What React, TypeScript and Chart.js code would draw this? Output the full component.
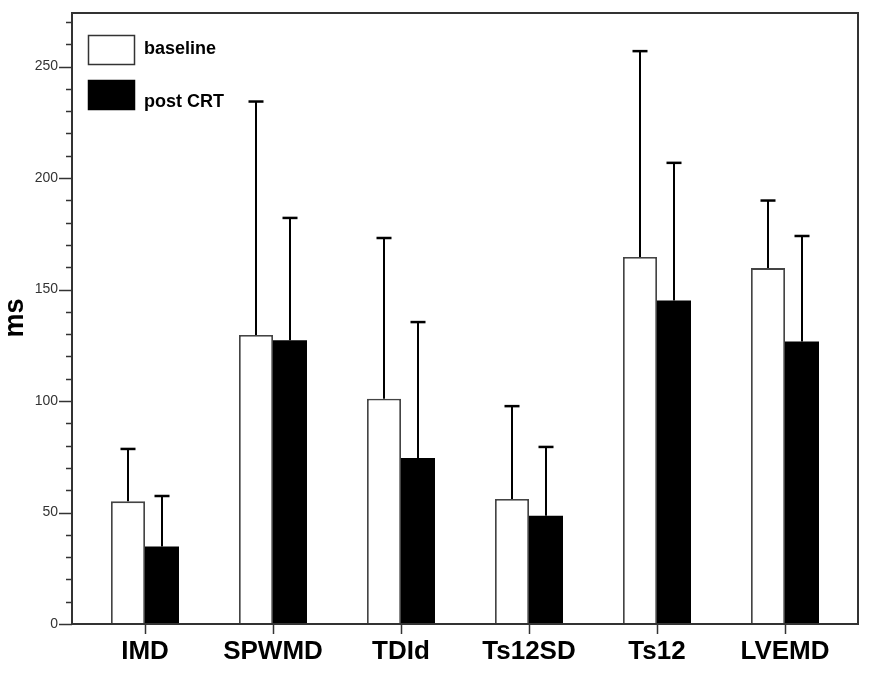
import React, { useEffect, useRef } from "react";
import { Chart, registerables } from "chart.js";

Chart.register(...registerables);

const categories = ["IMD", "SPWMD", "TDId", "Ts12SD", "Ts12", "LVEMD"];
const seriesNames = ["baseline", "post CRT"];
const baselineMean = [55, 129.6, 101, 56.1, 164.6, 159.6];
const baselineSD = [23.5, 104.7, 72.1, 41.6, 92.3, 30.3];
const postMean = [34.7, 127.3, 74.4, 48.6, 145.1, 126.7];
const postSD = [22.7, 54.8, 61, 30.8, 61.7, 47.3];
const yTickLabels = [0, 50, 100, 150, 200, 250];
const yMinorStep = 10;
const yMax = 274;
const yTitle = "ms";

const FONT = '"Liberation Sans", Arial, Helvetica, sans-serif';
const AXIS = "#333333";

const sdByDataset = [baselineSD, postSD];
const meanByDataset = [baselineMean, postMean];

const decorPlugin = {
  id: "decor",
  afterDatasetsDraw(chart: any) {
    const ctx = chart.ctx;
    const y = chart.scales.y;
    ctx.save();
    chart.data.datasets.forEach((ds: any, di: number) => {
      const meta = chart.getDatasetMeta(di);
      meta.data.forEach((el: any, i: number) => {
        const top = y.getPixelForValue(meanByDataset[di][i] + sdByDataset[di][i]);
        const cx = Math.round(el.x);
        ctx.strokeStyle = "#000";
        ctx.lineWidth = 2;
        ctx.beginPath();
        ctx.moveTo(cx, el.y);
        ctx.lineTo(cx, top);
        ctx.stroke();
        ctx.lineWidth = 2.5;
        ctx.beginPath();
        ctx.moveTo(cx - 7.5, top);
        ctx.lineTo(cx + 7.5, top);
        ctx.stroke();
      });
    });
    ctx.restore();
  },
  afterDraw(chart: any) {
    const ctx = chart.ctx;
    const y = chart.scales.y;
    const x = chart.scales.x;
    const area = chart.chartArea;
    ctx.save();
    ctx.strokeStyle = AXIS;
    ctx.lineWidth = 2;
    ctx.strokeRect(area.left, area.top, area.right - area.left, area.bottom - area.top);
    ctx.lineWidth = 1.5;
    for (let v = 0; v <= yMax; v += yMinorStep) {
      const py = Math.round(y.getPixelForValue(v)) + 0.5;
      const major = yTickLabels.includes(v);
      ctx.beginPath();
      ctx.moveTo(area.left - (major ? 13 : 6), py);
      ctx.lineTo(area.left, py);
      ctx.stroke();
    }
    categories.forEach((_, i) => {
      const px = Math.round(x.getPixelForValue(i)) + 0.5;
      ctx.beginPath();
      ctx.moveTo(px, area.bottom);
      ctx.lineTo(px, area.bottom + 10);
      ctx.stroke();
    });
    ctx.fillStyle = "#000";
    ctx.font = `bold 27px ${FONT}`;
    ctx.textAlign = "center";
    ctx.textBaseline = "middle";
    ctx.translate(16, 318);
    ctx.rotate(-Math.PI / 2);
    ctx.fillText(yTitle, 0, 0);
    ctx.restore();
    ctx.save();
    const boxes = [
      { fill: "#ffffff", stroke: AXIS, y: 35 },
      { fill: "#000000", stroke: "#000000", y: 80 },
    ];
    boxes.forEach((b, i) => {
      ctx.fillStyle = b.fill;
      ctx.fillRect(88, b.y, 47, 30);
      ctx.strokeStyle = b.stroke;
      ctx.lineWidth = 1.5;
      ctx.strokeRect(88.5, b.y + 0.5, 46, 29);
      ctx.fillStyle = "#000";
      ctx.font = `bold 18px ${FONT}`;
      ctx.textAlign = "left";
      ctx.textBaseline = "middle";
      ctx.fillText(seriesNames[i], 144, i === 0 ? 49 : 102);
    });
    ctx.restore();
  },
};

export default function App() {
  const ref = useRef<HTMLCanvasElement>(null);
  useEffect(() => {
    document.body.style.margin = "0";
    const chart = new Chart(ref.current!, {
      type: "bar",
      data: {
        datasets: [
          {
            label: seriesNames[0],
            data: categories.map((_, i) => ({ x: i, y: baselineMean[i] })),
            backgroundColor: "#ffffff",
            borderColor: "#444444",
            borderWidth: 1.8,
          },
          {
            label: seriesNames[1],
            data: categories.map((_, i) => ({ x: i, y: postMean[i] })),
            backgroundColor: "#000000",
            borderWidth: 0,
          },
        ],
      },
      options: {
        responsive: false,
        animation: false,
        categoryPercentage: 68 / 128,
        barPercentage: 1,
        layout: { padding: { left: 0, right: 20, top: 13, bottom: 0 } },
        plugins: { legend: { display: false }, tooltip: { enabled: false } },
        scales: {
          x: {
            type: "linear",
            offset: false,
            min: -0.5703,
            max: 5.5703,
            grid: { display: false, offset: false },
            border: { display: false },
            afterFit(scale: any) {
              scale.height = 58;
              scale.paddingLeft = 0;
              scale.paddingRight = 0;
            },
            ticks: {
              stepSize: 1,
              includeBounds: false,
              autoSkip: false,
              maxRotation: 0,
              padding: 4,
              color: "#000",
              font: { family: FONT, size: 26, weight: "bold" },
              callback: (v: any) =>
                Number.isInteger(v) && categories[v] ? categories[v] : "",
            },
          },
          y: {
            min: 0,
            max: yMax,
            grid: { display: false },
            border: { display: false },
            afterFit(scale: any) {
              scale.width = 72;
              scale.paddingTop = 0;
              scale.paddingBottom = 0;
            },
            ticks: {
              stepSize: 50,
              includeBounds: false,
              padding: 6,
              color: "#333",
              font: { family: FONT, size: 14 },
              callback: (v: any) => (yTickLabels.includes(v) ? String(v) : ""),
            },
          },
        },
      } as any,
      plugins: [decorPlugin],
    });
    return () => chart.destroy();
  }, []);
  return <canvas ref={ref} width={878} height={682} />;
}
